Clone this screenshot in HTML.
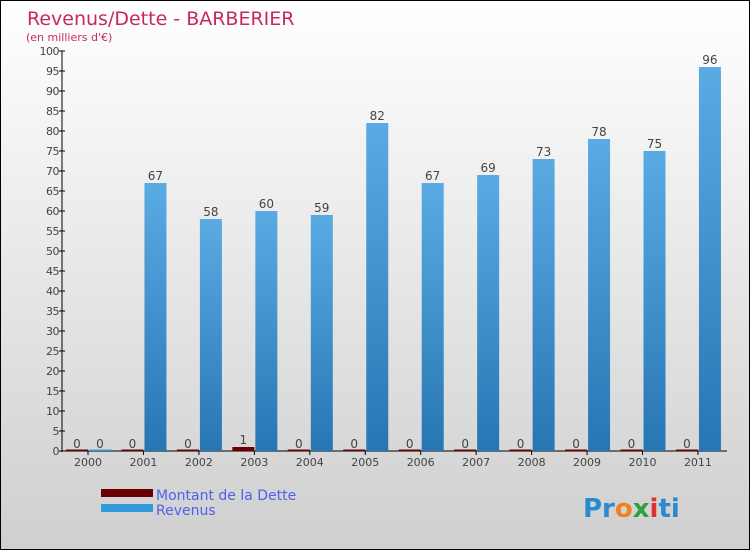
<!DOCTYPE html>
<html><head><meta charset="utf-8"><style>
body{margin:0}
#c{width:748px;height:548px;border:1px solid #000;position:relative;overflow:hidden;background:linear-gradient(#fff,#cfcfcf);font-family:"DejaVu Sans","Liberation Sans",sans-serif}
</style></head><body>
<div id="c">
<svg id="s" width="748" height="548">
<defs><linearGradient id="g" x1="0" y1="0" x2="0" y2="1"><stop offset="0" stop-color="#5aabe4"/><stop offset="1" stop-color="#2776b4"/></linearGradient></defs>
<text x="26" y="24" font-size="19" fill="#c8285f">Revenus/Dette - BARBERIER</text>
<text x="25" y="40" font-size="11" fill="#c8285f">(en milliers d'€)</text>
<g id="plot"></g>
<rect x="100" y="488" width="52" height="8" fill="#6a0000"/>
<text x="155" y="499" font-size="14" fill="#5060ee">Montant de la Dette</text>
<rect x="100" y="503" width="52" height="8" fill="#3399dd"/>
<text x="155" y="514" font-size="14" fill="#5060ee">Revenus</text>
<text x="582" y="516" font-size="26" font-weight="bold"><tspan fill="#2a8ad0">Pr</tspan><tspan fill="#f08020">o</tspan><tspan fill="#30a040">x</tspan><tspan fill="#e03030">i</tspan><tspan fill="#2a8ad0">ti</tspan></text>
</svg></div>
<script>
const years=["2000","2001","2002","2003","2004","2005","2006","2007","2008","2009","2010","2011"];
const debt=[0,0,0,1,0,0,0,0,0,0,0,0];
const revenus=[0,67,58,60,59,82,67,69,73,78,75,96];
const yTicks=[0,5,10,15,20,25,30,35,40,45,50,55,60,65,70,75,80,85,90,95,100];
const NS="http://www.w3.org/2000/svg",g=document.getElementById('plot');
const y=v=>450-v*4, cx=i=>87+i*55.45;
function mk(t,a,txt){const e=document.createElementNS(NS,t);for(const k in a)e.setAttribute(k,a[k]);if(txt!=null)e.textContent=txt;g.appendChild(e);return e;}
let e=mk('line',{x1:61,y1:50,x2:61,y2:451,stroke:'#000'});


e=mk('line',{x1:58,y1:450,x2:726,y2:450,stroke:'#000'});


yTicks.forEach(t=>{
 let l=mk('line',{x1:58,y1:y(t),x2:64,y2:y(t),stroke:'#000'});
 
 
 let tx=mk('text',{x:58,y:y(t)+4,'font-size':11,fill:'#444','text-anchor':'end','letter-spacing':'-0.5'},t);
 
 
});
years.forEach((yr,i)=>{
 const c=cx(i);
 let l=mk('line',{x1:c,y1:450,x2:c,y2:454,stroke:'#000'});
 
 
 let tx=mk('text',{x:c,y:465,'font-size':11,fill:'#444','text-anchor':'middle'},yr);
 
 
 const hd=Math.max(debt[i]*4,1.5);
 let b=mk('rect',{x:c-22,y:450-hd,width:22,height:hd,fill:'#6a0000'});
 
 
 let v=mk('text',{x:c-11,y:y(debt[i])-3,'font-size':12,fill:'#444','text-anchor':'middle'},debt[i]);
 
 
 const hr=Math.max(revenus[i]*4,1.5);
 b=mk('rect',{x:c+1,y:450-hr,width:22,height:hr,fill:revenus[i]?'url(#g)':'#3399dd'});
 
 
 if(i===0){v=mk('text',{x:c+12,y:y(revenus[i])-3,'font-size':12,fill:'#444','text-anchor':'middle'},revenus[i]);}
 else{v=mk('text',{x:c+12,y:y(revenus[i])-3,'font-size':12,fill:'#444','text-anchor':'middle'},revenus[i]);}
 
 
});
</script>
</body></html>
